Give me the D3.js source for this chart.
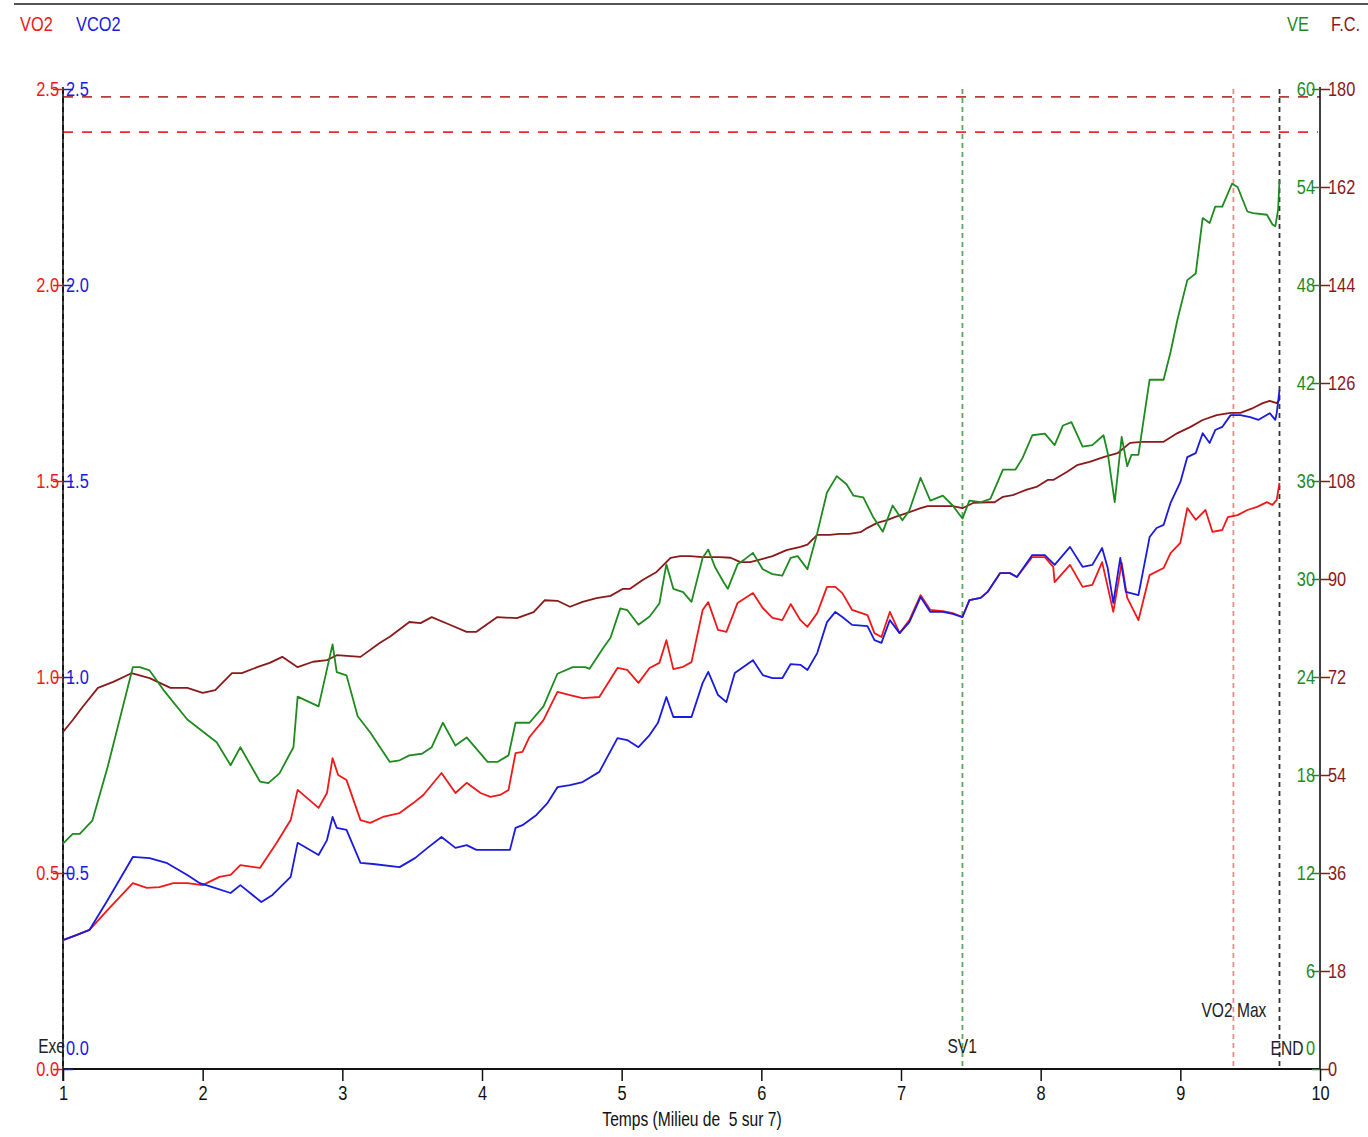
<!DOCTYPE html>
<html>
<head>
<meta charset="utf-8">
<script src="https://cdn.jsdelivr.net/npm/d3@7"></script>
<style>
  body { margin: 0; background: #fff; }
  svg text { font-family: "Liberation Sans", Arial, sans-serif; }
</style>
</head>
<body>
<svg id="chart" width="1368" height="1137"></svg>
<script>
// ---- Effort test data: time in minutes ----
const vo2Time = [1.00,1.10,1.19,1.32,1.50,1.60,1.69,1.79,1.89,2.00,2.12,2.20,2.27,2.41,2.53,2.63,2.68,2.83,2.89,2.93,2.97,3.03,3.13,3.20,3.29,3.41,3.51,3.58,3.71,3.81,3.89,3.99,4.06,4.13,4.19,4.24,4.29,4.34,4.44,4.54,4.63,4.72,4.84,4.97,5.04,5.12,5.20,5.27,5.32,5.37,5.44,5.50,5.58,5.62,5.69,5.75,5.83,5.94,6.01,6.08,6.15,6.21,6.28,6.33,6.40,6.47,6.53,6.58,6.65,6.76,6.81,6.86,6.92,6.99,7.06,7.14,7.21,7.30,7.37,7.44,7.49,7.57,7.62,7.71,7.78,7.83,7.94,8.03,8.09,8.10,8.21,8.30,8.37,8.44,8.48,8.52,8.58,8.62,8.70,8.78,8.88,8.93,9.00,9.05,9.11,9.18,9.23,9.30,9.34,9.41,9.48,9.55,9.62,9.66,9.69,9.71];
const vo2Values = [0.329,0.342,0.355,0.406,0.474,0.462,0.464,0.474,0.474,0.469,0.490,0.495,0.520,0.513,0.577,0.635,0.712,0.666,0.704,0.793,0.750,0.737,0.635,0.628,0.643,0.653,0.679,0.699,0.755,0.704,0.730,0.704,0.694,0.699,0.712,0.806,0.809,0.847,0.890,0.962,0.954,0.946,0.949,1.023,1.018,0.985,1.023,1.036,1.094,1.020,1.026,1.038,1.171,1.191,1.120,1.115,1.189,1.214,1.176,1.151,1.145,1.186,1.145,1.128,1.163,1.230,1.230,1.214,1.171,1.158,1.112,1.102,1.166,1.112,1.145,1.209,1.171,1.168,1.163,1.153,1.196,1.202,1.217,1.265,1.265,1.255,1.306,1.306,1.281,1.242,1.286,1.230,1.235,1.293,1.230,1.166,1.291,1.202,1.145,1.260,1.278,1.316,1.342,1.431,1.401,1.426,1.370,1.375,1.408,1.413,1.426,1.434,1.446,1.439,1.452,1.495];

const vco2Time = [1.00,1.10,1.19,1.32,1.50,1.62,1.74,1.89,1.98,2.07,2.20,2.27,2.42,2.50,2.63,2.68,2.83,2.89,2.93,2.96,3.03,3.13,3.22,3.41,3.52,3.61,3.71,3.81,3.89,3.96,4.20,4.24,4.29,4.39,4.47,4.54,4.63,4.72,4.84,4.97,5.04,5.12,5.20,5.26,5.32,5.37,5.50,5.58,5.62,5.69,5.75,5.81,5.94,6.01,6.08,6.15,6.21,6.28,6.33,6.40,6.47,6.53,6.58,6.65,6.76,6.81,6.86,6.92,6.99,7.06,7.14,7.21,7.30,7.37,7.44,7.49,7.57,7.62,7.71,7.78,7.83,7.94,8.03,8.10,8.21,8.30,8.37,8.44,8.48,8.52,8.57,8.61,8.70,8.78,8.83,8.88,8.93,9.00,9.05,9.11,9.16,9.21,9.25,9.30,9.36,9.43,9.50,9.56,9.64,9.68,9.69,9.71];
const vco2Values = [0.329,0.342,0.355,0.431,0.541,0.538,0.526,0.495,0.474,0.464,0.449,0.469,0.426,0.444,0.490,0.577,0.546,0.584,0.643,0.615,0.610,0.526,0.523,0.515,0.538,0.564,0.592,0.564,0.571,0.559,0.559,0.615,0.622,0.648,0.679,0.719,0.724,0.732,0.758,0.844,0.839,0.821,0.852,0.883,0.949,0.898,0.898,0.985,1.013,0.954,0.936,1.010,1.043,1.005,0.997,0.997,1.033,1.031,1.018,1.061,1.140,1.166,1.153,1.133,1.130,1.094,1.087,1.145,1.112,1.140,1.204,1.166,1.166,1.161,1.153,1.196,1.202,1.217,1.265,1.265,1.255,1.311,1.311,1.286,1.332,1.281,1.286,1.329,1.278,1.189,1.304,1.217,1.209,1.357,1.380,1.388,1.444,1.497,1.561,1.571,1.622,1.597,1.630,1.638,1.668,1.668,1.663,1.656,1.673,1.656,1.673,1.732];

const veTime = [1.00,1.07,1.12,1.21,1.32,1.50,1.55,1.62,1.72,1.89,1.98,2.10,2.20,2.27,2.41,2.47,2.55,2.65,2.68,2.83,2.93,2.96,3.03,3.11,3.20,3.34,3.41,3.48,3.57,3.64,3.72,3.81,3.89,4.04,4.11,4.19,4.24,4.34,4.44,4.54,4.65,4.74,4.77,4.87,4.92,4.99,5.04,5.12,5.20,5.27,5.32,5.37,5.44,5.50,5.58,5.62,5.67,5.73,5.76,5.83,5.88,5.94,6.01,6.08,6.15,6.21,6.26,6.33,6.40,6.47,6.54,6.61,6.66,6.73,6.80,6.87,6.94,7.01,7.06,7.14,7.21,7.30,7.37,7.44,7.49,7.57,7.64,7.73,7.82,7.87,7.94,8.03,8.10,8.16,8.22,8.30,8.37,8.45,8.48,8.53,8.58,8.62,8.65,8.70,8.78,8.88,8.93,8.98,9.05,9.11,9.16,9.21,9.25,9.30,9.37,9.41,9.48,9.52,9.62,9.66,9.68,9.70,9.71];
const veValues = [13.8,14.4,14.4,15.2,18.5,24.6,24.6,24.4,23.2,21.4,20.8,20.0,18.6,19.7,17.6,17.5,18.1,19.7,22.8,22.2,26.0,24.3,24.1,21.6,20.6,18.8,18.9,19.2,19.3,19.7,21.2,19.8,20.3,18.8,18.8,19.2,21.2,21.2,22.2,24.2,24.6,24.6,24.5,25.8,26.4,28.2,28.1,27.2,27.7,28.5,30.9,29.4,29.2,28.6,31.3,31.8,30.7,29.8,29.4,30.9,31.2,31.6,30.6,30.3,30.2,31.3,31.4,30.6,32.8,35.3,36.3,35.8,35.1,35.0,33.8,32.9,34.5,33.6,34.2,36.2,34.8,35.1,34.5,33.7,34.8,34.7,34.9,36.7,36.7,37.4,38.8,38.9,38.2,39.4,39.6,38.1,38.2,38.8,37.7,34.7,38.7,36.9,37.6,37.6,42.2,42.2,43.9,45.9,48.3,48.7,52.1,51.8,52.8,52.8,54.2,54.0,52.5,52.4,52.3,51.7,51.6,52.6,54.4];

const fcTime = [1.00,1.07,1.14,1.25,1.36,1.49,1.62,1.77,1.89,2.00,2.09,2.21,2.28,2.39,2.48,2.57,2.68,2.79,2.89,2.96,3.13,3.27,3.34,3.48,3.56,3.64,3.77,3.89,3.96,4.11,4.25,4.37,4.45,4.54,4.63,4.72,4.82,4.92,5.01,5.06,5.15,5.25,5.35,5.42,5.49,5.58,5.70,5.78,5.85,5.92,6.01,6.08,6.18,6.28,6.33,6.40,6.49,6.56,6.63,6.71,6.76,6.83,6.90,6.96,7.04,7.14,7.19,7.26,7.37,7.44,7.52,7.62,7.67,7.73,7.80,7.90,7.97,8.05,8.09,8.19,8.26,8.35,8.45,8.55,8.64,8.73,8.88,8.98,9.07,9.16,9.26,9.36,9.43,9.52,9.59,9.64,9.69,9.71];
const fcValues = [61.9,64.1,66.5,70.0,71.1,72.7,71.8,70.0,70.0,69.1,69.6,72.7,72.7,73.8,74.6,75.7,73.8,74.8,75.1,76.0,75.7,78.3,79.4,82.1,81.9,83.0,81.6,80.3,80.3,83.0,82.8,83.9,86.1,86.0,84.9,85.8,86.5,86.9,88.2,88.2,89.8,91.3,93.9,94.2,94.2,94.0,94.0,93.9,93.1,93.1,93.7,94.2,95.3,95.9,96.3,98.1,98.1,98.3,98.3,98.6,99.4,100.3,100.8,101.4,102.1,103.0,103.4,103.4,103.4,103.0,104.0,104.1,104.1,105.1,105.4,106.4,106.9,108.2,108.2,109.7,110.9,111.5,112.4,113.1,115.0,115.2,115.2,116.8,117.9,119.2,120.1,120.5,120.5,121.4,122.3,122.7,122.3,122.9];

// Event markers along the time axis
const eventTimes = [1.0, 7.44, 9.38, 9.71];
const eventLabels = ["Exe", "SV1", "VO2 Max", "END"];

// Horizontal reference levels (VO2 scale)
const refLevels = [2.48, 2.39];

// Tick values
const timeTicks = [1, 2, 3, 4, 5, 6, 7, 8, 9, 10];
const gasTicks = [0, 0.5, 1.0, 1.5, 2.0, 2.5];
const veTicks = [0, 6, 12, 18, 24, 30, 36, 42, 48, 54, 60];
const fcTicks = [0, 18, 36, 54, 72, 90, 108, 126, 144, 162, 180];

// ---- Layout ----
const svg = d3.select("#chart");
const plotL = 63, plotR = 1320, plotT = 89, plotB = 1069;
const C = { vo2: "#f01818", vco2: "#1a1ae0", ve: "#1f8a1f", fc: "#8a1a1a" };
const NARROW = 0.78;   // horizontal squeeze giving a narrow typeface

const x = d3.scaleLinear().domain([1, 10]).range([plotL, plotR]);
const yGas = d3.scaleLinear().domain([0, 2.5]).range([plotB, plotT]);
const yVE = d3.scaleLinear().domain([0, 60]).range([plotB, plotT]);
const yFC = d3.scaleLinear().domain([0, 180]).range([plotB, plotT]);

// Frame line across the top
svg.append("line").attr("x1", 14).attr("x2", 1368).attr("y1", 4).attr("y2", 4)
  .attr("stroke", "#555").attr("stroke-width", 2);

// Series legend
const legend = [
  { t: "VO2", x: 20, c: C.vo2 }, { t: "VCO2", x: 76, c: C.vco2 },
  { t: "VE", x: 1287, c: C.ve }, { t: "F.C.", x: 1331, c: C.fc }
];
svg.selectAll("text.legend").data(legend).join("text")
  .attr("class", "legend").attr("x", d => d.x).attr("y", 31)
  .attr("fill", d => d.c).attr("font-size", 21).text(d => d.t);

// Reference lines
svg.append("line").attr("x1", plotL).attr("x2", plotR).attr("y1", yGas(refLevels[0])).attr("y2", yGas(refLevels[0]))
  .attr("stroke", "#b83a3a").attr("stroke-width", 1.6).attr("stroke-dasharray", "10,9");
svg.append("line").attr("x1", plotL).attr("x2", plotR - 2).attr("y1", yGas(refLevels[1])).attr("y2", yGas(refLevels[1]))
  .attr("stroke", "#f02a2a").attr("stroke-width", 1.6).attr("stroke-dasharray", "10,9");

// Event markers (vertical dashed)
const eventColors = ["#222", "#5aa85a", "#f08a8a", "#333"];
eventTimes.forEach((t, i) => {
  svg.append("line").attr("x1", x(t)).attr("x2", x(t)).attr("y1", plotT).attr("y2", plotB)
    .attr("stroke", eventColors[i]).attr("stroke-width", 1.8).attr("stroke-dasharray", "5,4");
});

// Axis lines
svg.append("line").attr("x1", plotL).attr("x2", plotL).attr("y1", plotT - 2).attr("y2", plotB + 12)
  .attr("stroke", "#111").attr("stroke-width", 1.6);
svg.append("line").attr("x1", plotR).attr("x2", plotR).attr("y1", plotT - 2).attr("y2", plotB)
  .attr("stroke", "#111").attr("stroke-width", 1.6);
svg.append("line").attr("x1", plotL).attr("x2", plotR).attr("y1", plotB).attr("y2", plotB)
  .attr("stroke", "#111").attr("stroke-width", 2);

function styleAxis(g, color) {
  g.select(".domain").remove();
  g.selectAll("line").attr("stroke", color).attr("stroke-width", 1.5);
  g.selectAll("text").attr("fill", color).attr("font-size", 21)
    .attr("font-family", "'Liberation Sans', Arial, sans-serif");
}

// Left axes: VO2 (outer) and VCO2 (inner)
svg.append("g").attr("transform", `translate(${plotL},0)`)
  .call(d3.axisLeft(yGas).tickValues(gasTicks).tickFormat(d3.format(".1f")).tickSize(10).tickPadding(-6))
  .call(g => styleAxis(g, C.vo2));
svg.append("g").attr("transform", `translate(${plotL},0)`)
  .call(d3.axisRight(yGas).tickValues(gasTicks).tickFormat(d3.format(".1f")).tickSize(10).tickPadding(-7))
  .call(g => styleAxis(g, C.vco2))
  .call(g => g.selectAll(".tick").filter(d => d === 0).select("text").attr("dy", "-0.68em"));

// Right axes: VE (inner) and F.C. (outer)
svg.append("g").attr("transform", `translate(${plotR},0)`)
  .call(d3.axisLeft(yVE).tickValues(veTicks).tickSize(8).tickPadding(-3))
  .call(g => styleAxis(g, C.ve))
  .call(g => g.selectAll(".tick").filter(d => d === 0).select("text").attr("dy", "-0.68em"));
svg.append("g").attr("transform", `translate(${plotR},0)`)
  .call(d3.axisRight(yFC).tickValues(fcTicks).tickSize(10).tickPadding(-2))
  .call(g => styleAxis(g, C.fc));

// Time axis
svg.append("g").attr("transform", `translate(0,${plotB})`)
  .call(d3.axisBottom(x).tickValues(timeTicks).tickFormat(d3.format("d")).tickSize(12).tickPadding(4))
  .call(g => styleAxis(g, "#111"));
svg.append("text").attr("x", 692).attr("y", 1126).attr("text-anchor", "middle")
  .attr("xml:space", "preserve")
  .attr("font-size", 20).attr("fill", "#111").text("Temps (Milieu de  5 sur 7)");

// Event labels
const labelPos = [
  { dx: 2, y: 1053, anchor: "end" }, { dx: -15, y: 1053, anchor: "start" },
  { dx: -32, y: 1017, anchor: "start" }, { dx: 24, y: 1055, anchor: "end" }
];
eventTimes.forEach((t, i) => {
  svg.append("text").attr("x", x(t) + labelPos[i].dx).attr("y", labelPos[i].y)
    .attr("text-anchor", labelPos[i].anchor)
    .attr("font-size", 20).attr("fill", "#222").text(eventLabels[i]);
});

// Data lines
function drawSeries(times, values, yScale, color) {
  const pts = times.map((t, i) => [t, values[i]]);
  svg.append("path").datum(pts)
    .attr("fill", "none").attr("stroke", color).attr("stroke-width", 1.8)
    .attr("stroke-linejoin", "round")
    .attr("d", d3.line().x(d => x(d[0])).y(d => yScale(d[1])));
}
drawSeries(fcTime, fcValues, yFC, C.fc);
drawSeries(veTime, veValues, yVE, C.ve);
drawSeries(vo2Time, vo2Values, yGas, C.vo2);
drawSeries(vco2Time, vco2Values, yGas, C.vco2);

// Narrow every label: move its anchor point into a transform and squeeze horizontally
svg.selectAll("text").each(function () {
  const t = d3.select(this);
  const tx = +t.attr("x") || 0, ty = +t.attr("y") || 0;
  t.attr("x", null).attr("y", null)
    .attr("transform", `translate(${tx},${ty}) scale(${NARROW},1)`);
});
</script>
</body>
</html>
